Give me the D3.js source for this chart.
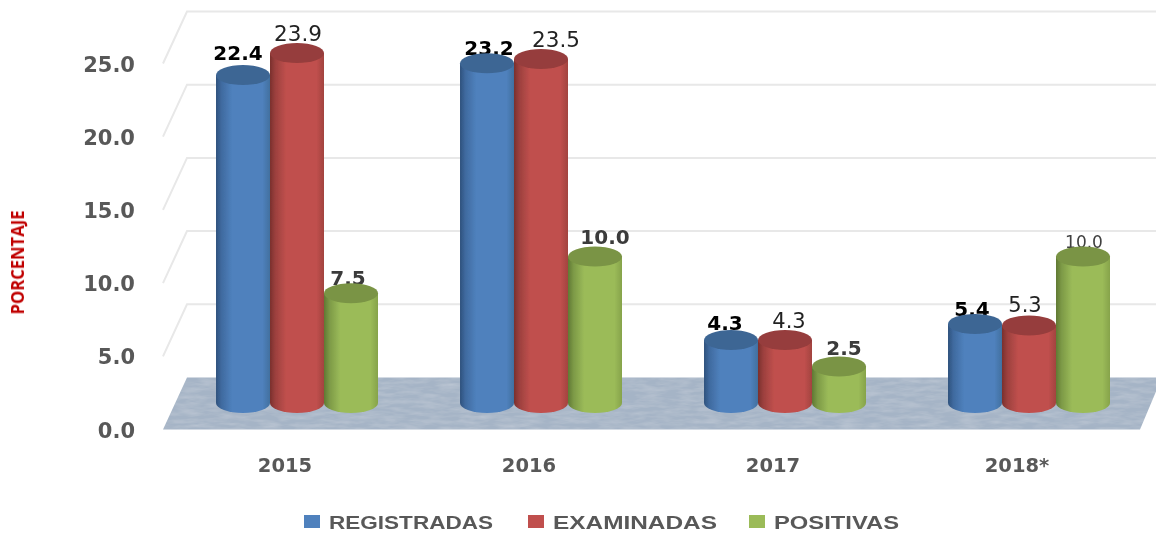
<!DOCTYPE html>
<html><head><meta charset="utf-8">
<script src="https://cdnjs.cloudflare.com/ajax/libs/d3/7.8.5/d3.min.js"></script>
<style>html,body{margin:0;padding:0;background:#fff}svg{display:block}</style>
</head><body><svg id="c" width="1156" height="533"></svg>
<script>
const years = ["2015","2016","2017","2018*"];
const seriesNames = ["REGISTRADAS","EXAMINADAS","POSITIVAS"];
const registradas = [22.4,23.2,4.3,5.4];
const examinadas = [23.9,23.5,4.3,5.3];
const positivas = [7.5,10.0,2.5,10.0];
const yTicks = [0,5,10,15,20,25];
const allSeries = [registradas,examinadas,positivas];

// hand placement of the value labels, relative to each cylinder's top centre
const labelDx = [[-5,2,-6,-3],[1,15,4,-4],[-3,10,5,1]];
const labelDy = [[-15,-8,-10,-8],[-12,-12,-12,-13],[-8,-13,-11,-9]];

const svg = d3.select("#c");
const font = "'DejaVu Sans',sans-serif";
const palette = [
 {id:"b",edge:"#2f527d",mid:"#3f6a9f",main:"#4f81bd",right:"#41709f",cap:"#3e6694"},
 {id:"r",edge:"#7a2f2d",mid:"#9c403e",main:"#c0504d",right:"#a2433f",cap:"#963e3c"},
 {id:"g",edge:"#5f7834",mid:"#7c9946",main:"#9bbb59",right:"#86a34a",cap:"#7a9445"}
];
const defs = svg.append("defs");
palette.forEach(p=>{
  const g = defs.append("linearGradient").attr("id","grad-"+p.id);
  [[0,p.edge],[.1,p.mid],[.3,p.main],[.86,p.main],[1,p.right]].forEach(s=>
    g.append("stop").attr("offset",s[0]).attr("stop-color",s[1]));
});
const noise = defs.append("filter").attr("id","floorNoise").attr("x",0).attr("y",0).attr("width",1).attr("height",1);
noise.append("feTurbulence").attr("type","fractalNoise").attr("baseFrequency","0.05 0.25").attr("numOctaves",3).attr("seed",4).attr("result","n");
noise.append("feColorMatrix").attr("in","n").attr("type","matrix")
  .attr("values","0 0 0 0 1  0 0 0 0 1  0 0 0 0 1  0.3 0 0 0 -0.1").attr("result","w");
noise.append("feComposite").attr("in","w").attr("in2","SourceGraphic").attr("operator","in").attr("result","wc");
const mg = noise.append("feMerge"); mg.append("feMergeNode").attr("in","SourceGraphic"); mg.append("feMergeNode").attr("in","wc");
defs.append("filter").attr("id","soft").append("feGaussianBlur").attr("stdDeviation",0.55);

const yFront = d3.scaleLinear().domain([0,25]).range([429.5,63.5]);
const depthY = 52;
const yBack = v => yFront(v) - depthY;
const yBar = d3.scaleLinear().domain([0,25]).range([403,37]);
const x0 = d3.scaleBand().domain(years).range([175,1151]);
const x1 = d3.scaleBand().domain(seriesNames).range([0,162]);
const groupLeft = y => x0(y) + (x0.bandwidth()-162)/2;

const root = svg.append("g").attr("filter","url(#soft)");
// floor
root.append("path")
  .attr("d",`M163,${yFront(0)}L1140,${yFront(0)}L1156,${yBack(0)+14}L1156,${yBack(0)}L187,${yBack(0)}Z`)
  .attr("fill","#a5b4c6").attr("filter","url(#floorNoise)");
// grid
const grid = root.append("g");
yTicks.filter(v=>v>0).forEach(v=>{
  grid.append("path").attr("d",`M163,${yFront(v)}L187,${yBack(v)}L1156,${yBack(v)}`)
    .attr("fill","none").attr("stroke","#e8e8e8").attr("stroke-width",2);
});
// y axis
const ax = root.append("g").attr("transform","translate(135,0)")
  .call(d3.axisLeft(yFront).tickValues(yTicks).tickSize(0).tickPadding(0).tickFormat(d3.format(".1f")));
ax.select(".domain").remove();
ax.selectAll("text").attr("font-family",font).attr("font-weight",700).attr("font-size",21).attr("fill","#595959").attr("dy","0.36em");
// x axis
const ax2 = root.append("g").attr("transform","translate(-12,465)")
  .call(d3.axisBottom(x0).tickSize(0).tickPadding(0));
ax2.select(".domain").remove();
ax2.selectAll("text").attr("font-family",font).attr("font-weight",700).attr("font-size",19.5).attr("fill","#595959").attr("dy","0.36em").attr("y",0);

const rx = 27, ry = 10;
const labelGroup = root.append("g"), barGroup = root.append("g");
years.forEach((yr,i)=>{
  seriesNames.forEach((s,j)=>{
    const v = allSeries[j][i], p = palette[j];
    const cx = groupLeft(yr)+x1(s)+x1.bandwidth()/2, t = yBar(v), b = yBar(0);
    barGroup.append("path").attr("d",`M${cx-rx},${t}L${cx-rx},${b}A${rx},${ry} 0 0 0 ${cx+rx},${b}L${cx+rx},${t}Z`)
      .attr("fill",`url(#grad-${p.id})`);
    barGroup.append("ellipse").attr("cx",cx).attr("cy",t).attr("rx",rx).attr("ry",ry).attr("fill",p.cap);
    const small = (i===3&&j===2);
    const bold = j!==1 && !small;
    let size = 20;
    if (small) size = 17;
    else if (!bold) size = v>=10 ? 21.5 : 21;
    labelGroup.append("text").text(d3.format(".1f")(v))
      .attr("x",cx+labelDx[j][i]).attr("y",t+labelDy[j][i])
      .attr("text-anchor","middle").attr("font-family",font)
      .attr("font-weight",bold?700:400).attr("font-size",size)
      .attr("fill",small?"#404040":j===0?"#000":j===1?"#222":"#3a3a3a");
  });
});

// y title
root.append("text").text("PORCENTAJE").attr("transform","translate(24,262.5) rotate(-90)")
  .attr("text-anchor","middle").attr("font-family","'Open Sans',sans-serif").attr("font-weight",700)
  .attr("font-size",17).attr("fill","#c00000").attr("textLength",104).attr("lengthAdjust","spacingAndGlyphs");

// legend
const legX = [304,528,749], legTextW = [164,164,125];
seriesNames.forEach((s,j)=>{
  root.append("rect").attr("x",legX[j]).attr("y",515).attr("width",16).attr("height",13).attr("fill",palette[j].main);
  root.append("text").text(s).attr("x",legX[j]+25).attr("y",529)
    .attr("font-family","'Liberation Sans',sans-serif").attr("font-weight",700).attr("font-size",18.8)
    .attr("fill","#595959").attr("textLength",legTextW[j]).attr("lengthAdjust","spacingAndGlyphs");
});
</script></body></html>
